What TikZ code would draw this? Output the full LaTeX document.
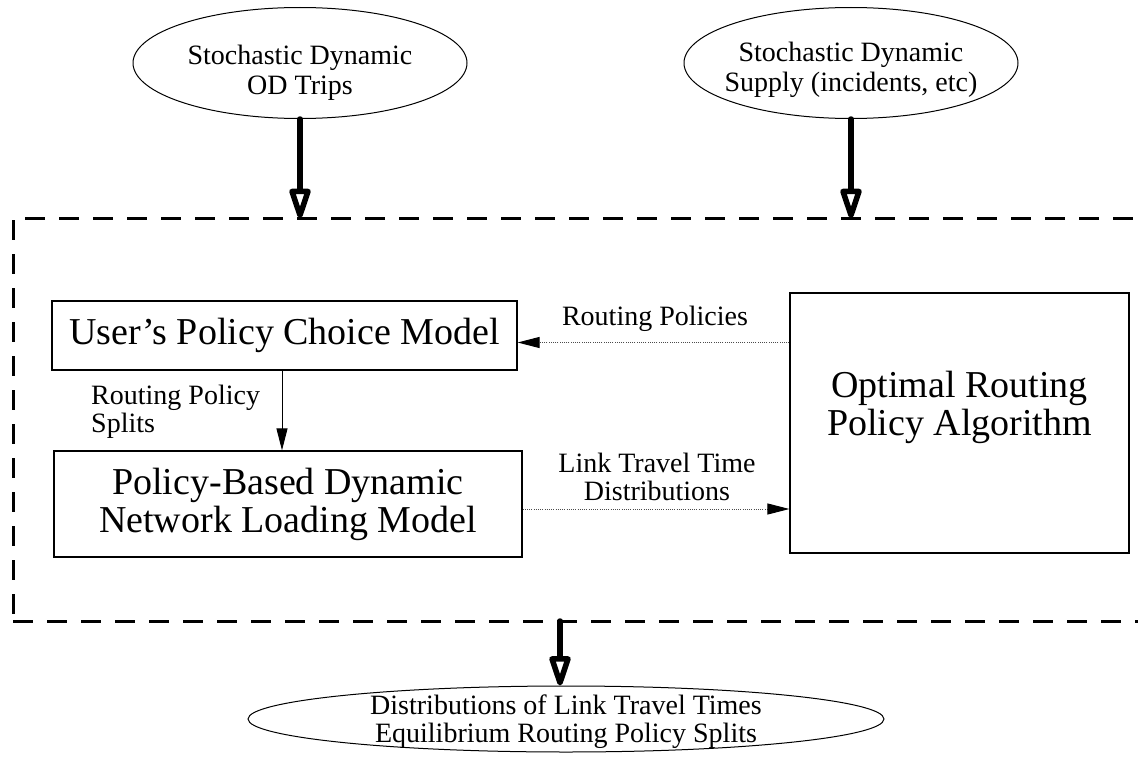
\documentclass[tikz,border=0pt]{standalone}
\usepackage{fontspec}
\setmainfont{Liberation Serif}
\usetikzlibrary{arrows.meta, shapes.geometric}

\begin{document}
\begin{tikzpicture}[x=1pt, y=-1pt,
  box/.style={draw, line width=1.2pt, inner sep=0pt, align=center,
    font=\fontsize{38}{38}\selectfont},
  ellip/.style={draw, ellipse, line width=1pt, inner sep=0pt},
  etext/.style={inner sep=0pt, align=center, font=\fontsize{28}{30}\selectfont},
  lbl/.style={inner sep=0pt, font=\fontsize{28}{28}\selectfont},
  framedash/.style={line width=3pt, dash pattern=on 20pt off 14pt},
  bigarrow/.style={line width=5.5pt, line cap=round,
    -{Triangle[open, length=36pt, width=22pt, line join=round]}},
  thinarrow/.style={line width=1pt, -{Triangle[length=22pt, width=11pt]}},
  dotarrow/.style={line width=1pt, draw=black!70, dash pattern=on 1pt off 1.2pt,
    -{Triangle[length=22pt, width=11pt, color=black]}}]

\useasboundingbox (0,0) rectangle (1138,776);

% dashed system boundary (open on the right)
\coordinate (ftop) at (0,218);
\coordinate (fbot) at (0,621);
\draw[framedash] (25,218) -- (1140,218);
\draw[framedash] (13,220) -- (13,617);
\draw[framedash] (13,621) -- (1140,621);

% inputs
\node[ellip, minimum width=334pt, minimum height=111pt] (od) at (300,63) {};
\node[etext] (odT) at (300,73) {Stochastic Dynamic\\OD Trips};
\node[ellip, minimum width=334pt, minimum height=111pt] (sup) at (851,63) {};
\node[etext] (supT) at (851,70) {Stochastic Dynamic\\Supply (incidents, etc)};

% model components
\node[box, minimum width=465pt, minimum height=69pt] (user) at (284.5,335.5)
  {User's Policy Choice Model};
\node[box, minimum width=468pt, minimum height=106pt] (load) at (288,504)
  {Policy-Based Dynamic\\Network Loading Model};
\node[box, minimum width=339pt, minimum height=260pt] (orpa) at (959.5,423) {};
\node[inner sep=0pt, align=center, font=\fontsize{38}{38}\selectfont] (orpaT)
  at (959.5,407) {Optimal Routing\\Policy Algorithm};

% output
\node[ellip, minimum width=636pt, minimum height=66pt] (out) at (566,719) {};
\node[etext, font=\fontsize{28}{28}\selectfont] (outT) at (566,722)
  {Distributions of Link Travel Times\\Equilibrium Routing Policy Splits};

% heavy flows across the boundary
\draw[bigarrow] (od.south) -- (od.south |- ftop);
\draw[bigarrow] (sup.south) -- (sup.south |- ftop);
\coordinate (fb) at (560,621);
\draw[bigarrow] (fb) -- (fb |- out.north);

% internal flows
\draw[thinarrow] ([xshift=-2.5pt]user.south) -- ([xshift=-2.5pt]user.south |- load.north);
\node[lbl, anchor=north west, align=left] (rps) at (91,385) {Routing Policy\\Splits};

\coordinate (rpL) at ([yshift=-7pt]user.east);
\coordinate (rpR) at (orpa.west |- rpL);
\draw[dotarrow] (rpR) -- (rpL);
\node[lbl, anchor=base] (rpl) at (655,325) {Routing Policies};

\coordinate (ltL) at ([yshift=-5pt]load.east);
\coordinate (ltR) at (orpa.west |- ltL);
\draw[dotarrow] (ltL) -- (ltR);
\node[lbl, anchor=north, align=center] (ltl) at (657,453) {Link Travel Time\\Distributions};
\end{tikzpicture}
\end{document}
